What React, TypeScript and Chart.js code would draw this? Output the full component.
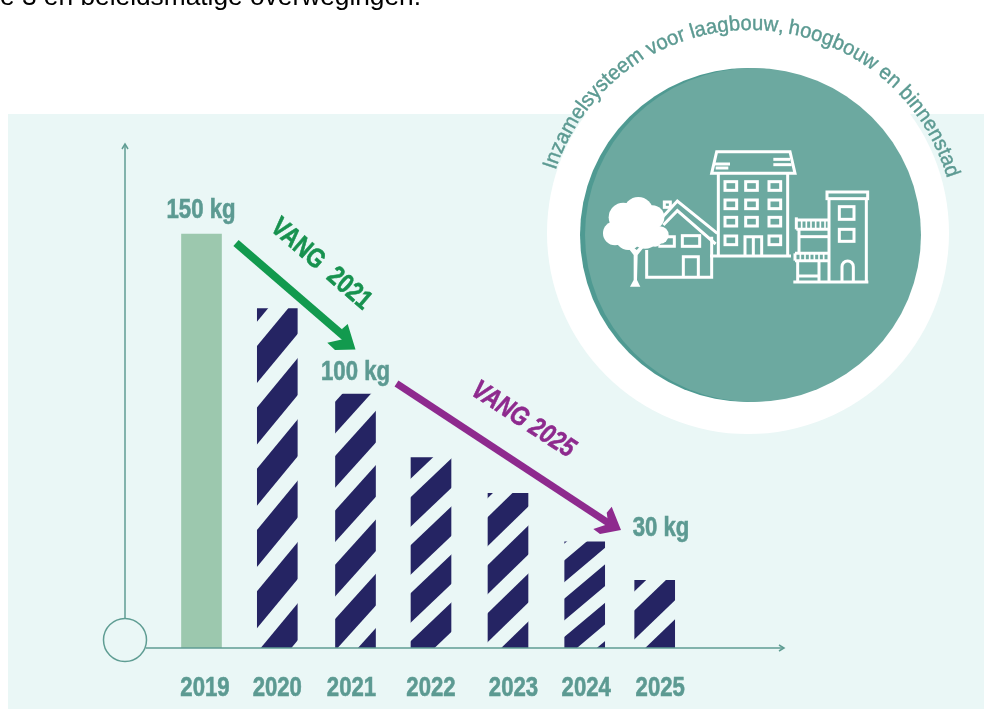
import React, { useEffect, useRef } from "react";
import { Chart, registerables, CategoryScale } from "chart.js";

// ---- data ----
const years = ["2019", "2020", "2021", "2022", "2023", "2024", "2025"];
const kgPerResident = [150, 123, 92, 69, 56, 38.5, 24.5];
const valueLabels = ["150 kg", "100 kg", "30 kg"];
const arrowLabels = ["VANG 2021", "VANG 2025"];
const ringTitle = "Inzamelsysteem voor laagbouw, hoogbouw en binnenstad";
const headerText = "e 3 en beleidsmatige overwegingen.";

// ---- layout and style (not data) ----
const barShift = [0, 0.3, 3, 3, 4.5, 5.7, 0.2];
const labelShift = [3.5, 0, -4, 0, 5.5, 1.5, 5.5];
const NAVY = "#252463";
const TEAL = "#5c9a92";
const AXIS = "#5f9d93";
const PANEL = "#eaf7f6";
const SANS = '"Liberation Sans", Arial, sans-serif';
const NARROW_X = 0.82;
const hatches = [
  null,
  { left: 257.3, anchor: 382.7, period: 61.3, slope: 1.21, thick: 37 },
  { left: 335.3, anchor: 433.3, period: 54.3, slope: 1.11, thick: 31.7 },
  { left: 411, anchor: 478.3, period: 48, slope: 0.95, thick: 29.5 },
  { left: 488, anchor: 497.7, period: 48, slope: 0.97, thick: 29 },
  { left: 564.7, anchor: 543.4, period: 38.3, slope: 0.84, thick: 21.7 },
  { left: 634.7, anchor: 591, period: 48, slope: 0.96, thick: 29 },
];

function narrowText(
  ctx: CanvasRenderingContext2D,
  text: string,
  x: number,
  y: number,
  font: string,
  color: string,
  deg = 0
) {
  ctx.save();
  ctx.translate(x, y);
  ctx.rotate((deg * Math.PI) / 180);
  ctx.scale(NARROW_X, 1);
  ctx.font = font;
  ctx.fillStyle = color;
  ctx.strokeStyle = color;
  ctx.lineWidth = 0.6;
  ctx.textAlign = "center";
  ctx.textBaseline = "alphabetic";
  ctx.fillText(text, 0, 0);
  ctx.strokeText(text, 0, 0);
  ctx.restore();
}

class PlacedCategoryScale extends CategoryScale {
  static id = "placedCategory";
  getPixelForValue(value: any, index?: any) {
    const base = super.getPixelForValue(value, index);
    const v = typeof value === "number" ? value : (this as any).parse(value);
    return base + (barShift[v] || 0);
  }
  getPixelForTick(index: number) {
    return super.getPixelForTick(index) + (labelShift[index] || 0);
  }
  drawLabels() {
    const self = this as any;
    self.ticks.forEach((tick: any, i: number) => {
      narrowText(self.ctx, String(tick.label), self.getPixelForTick(i), self.top + 48, `bold 27px ${SANS}`, TEAL);
    });
  }
}

Chart.register(...registerables, PlacedCategoryScale as any);

function hatchPattern(h: any) {
  const off = document.createElement("canvas");
  off.width = 984;
  off.height = 709;
  const c = off.getContext("2d")!;
  c.fillStyle = NAVY;
  const x0 = h.left - 2;
  const x1 = h.left + 44;
  for (let k = -10; k < 14; k++) {
    const low = h.anchor + k * h.period;
    const yAt = (yLeft: number, x: number) => yLeft - h.slope * (x - h.left);
    c.beginPath();
    c.moveTo(x0, yAt(low, x0));
    c.lineTo(x1, yAt(low, x1));
    c.lineTo(x1, yAt(low - h.thick, x1));
    c.lineTo(x0, yAt(low - h.thick, x0));
    c.closePath();
    c.fill();
  }
  return c.createPattern(off, "no-repeat")!;
}

function drawRingText(ctx: CanvasRenderingContext2D) {
  const cx = 750, cy = 235, r = 205;
  const start = (-71.6 * Math.PI) / 180;
  const end = (74 * Math.PI) / 180;
  ctx.save();
  ctx.font = `21px ${SANS}`;
  ctx.fillStyle = TEAL;
  ctx.strokeStyle = TEAL;
  ctx.lineWidth = 0.4;
  ctx.textAlign = "left";
  ctx.textBaseline = "alphabetic";
  const total = ctx.measureText(ringTitle).width;
  const k = (end - start) / (total / r);
  let pos = 0;
  for (let i = 0; i < ringTitle.length; i++) {
    const ch = ringTitle[i];
    const adv = ctx.measureText(ringTitle.slice(0, i + 1)).width;
    const a = start + (pos / r) * k;
    ctx.save();
    ctx.translate(cx + r * Math.sin(a), cy - r * Math.cos(a));
    ctx.rotate(a);
    ctx.scale(0.96, 1);
    ctx.fillText(ch, 0, 0);
    ctx.strokeText(ch, 0, 0);
    ctx.restore();
    pos = adv;
  }
  ctx.restore();
}

function poly(ctx: CanvasRenderingContext2D, pts: number[], close = false) {
  ctx.beginPath();
  ctx.moveTo(pts[0], pts[1]);
  for (let i = 2; i < pts.length; i += 2) ctx.lineTo(pts[i], pts[i + 1]);
  if (close) ctx.closePath();
  ctx.stroke();
}

function drawTown(ctx: CanvasRenderingContext2D) {
  ctx.save();
  ctx.translate(595, 140);
  ctx.scale(1 / 3, 1 / 3);
  ctx.strokeStyle = "#ffffff";
  ctx.fillStyle = "#ffffff";
  ctx.lineWidth = 9;
  ctx.lineJoin = "miter";
  // tall building
  poly(ctx, [365, 35, 585, 35, 600, 100, 350, 100], true);
  poly(ctx, [358, 72, 405, 72]);
  poly(ctx, [362, 84, 400, 84]);
  poly(ctx, [535, 58, 585, 58]);
  poly(ctx, [535, 74, 590, 74]);
  poly(ctx, [370, 100, 370, 348]);
  poly(ctx, [578, 100, 578, 348]);
  poly(ctx, [345, 348, 588, 348]);
  const cols = [390, 452, 522];
  const rows = [125, 180, 232, 288];
  rows.forEach((y, ri) =>
    cols.forEach((x, ci) => {
      if (ri === 3 && ci === 1) return;
      ctx.strokeRect(x, y, 35, 26);
    })
  );
  poly(ctx, [450, 345, 450, 290, 500, 290, 500, 345]);
  poly(ctx, [475, 290, 475, 345]);
  // house
  poly(ctx, [190, 245, 247, 183, 367, 280]);
  poly(ctx, [205, 255, 247, 212, 362, 312]);
  ctx.strokeRect(208, 186, 18, 16);
  poly(ctx, [155, 330, 155, 412, 350, 412, 350, 290]);
  ctx.strokeRect(262, 287, 52, 32);
  poly(ctx, [215, 290, 238, 290, 238, 319, 190, 319]);
  poly(ctx, [265, 412, 265, 350, 310, 350, 310, 412]);
  // tree
  const blobs = [
    [130, 215, 44], [85, 232, 44], [60, 280, 36], [172, 232, 36],
    [195, 285, 26], [100, 290, 40], [150, 280, 46], [180, 300, 20], [120, 260, 50],
  ];
  blobs.forEach(([x, y, r]) => {
    ctx.beginPath();
    ctx.arc(x, y, r, 0, Math.PI * 2);
    ctx.fill();
  });
  ctx.beginPath();
  ctx.moveTo(105, 440);
  ctx.lineTo(136, 440);
  ctx.lineTo(126, 420);
  ctx.lineTo(128, 345);
  ctx.lineTo(156, 310);
  ctx.lineTo(148, 305);
  ctx.lineTo(125, 330);
  ctx.lineTo(95, 305);
  ctx.lineTo(90, 312);
  ctx.lineTo(116, 345);
  ctx.lineTo(116, 420);
  ctx.closePath();
  ctx.fill();
  // right building
  ctx.strokeRect(696, 156, 122, 20);
  poly(ctx, [702, 176, 702, 425]);
  poly(ctx, [814, 176, 814, 425]);
  ctx.strokeRect(733, 200, 44, 38);
  ctx.strokeRect(733, 268, 44, 36);
  ctx.beginPath();
  ctx.moveTo(741, 425);
  ctx.lineTo(741, 380);
  ctx.arc(758, 380, 17, Math.PI, 0);
  ctx.lineTo(775, 425);
  ctx.stroke();
  poly(ctx, [595, 426, 820, 426]);
  // low building
  poly(ctx, [600, 240, 702, 240]);
  poly(ctx, [604, 268, 702, 268]);
  poly(ctx, [604, 232, 604, 268]);
  ctx.lineWidth = 5;
  for (let x = 620; x < 700; x += 14) poly(ctx, [x, 242, x, 266]);
  for (let x = 616; x < 700; x += 14) poly(ctx, [x, 342, x, 360]);
  ctx.lineWidth = 9;
  poly(ctx, [612, 268, 612, 340]);
  poly(ctx, [612, 290, 702, 290]);
  poly(ctx, [600, 340, 702, 340]);
  poly(ctx, [600, 362, 702, 362]);
  poly(ctx, [600, 340, 600, 362]);
  poly(ctx, [608, 362, 608, 426]);
  poly(ctx, [608, 408, 672, 408]);
  poly(ctx, [672, 362, 672, 426]);
  ctx.restore();
}

function arrow(
  ctx: CanvasRenderingContext2D,
  color: string,
  width: number,
  from: number[],
  notch: number[],
  head: number[]
) {
  ctx.save();
  ctx.strokeStyle = color;
  ctx.fillStyle = color;
  ctx.lineWidth = width;
  ctx.lineCap = "butt";
  ctx.beginPath();
  ctx.moveTo(from[0], from[1]);
  ctx.lineTo(notch[0], notch[1]);
  ctx.stroke();
  ctx.beginPath();
  ctx.moveTo(head[0], head[1]);
  for (let i = 2; i < head.length; i += 2) ctx.lineTo(head[i], head[i + 1]);
  ctx.closePath();
  ctx.fill();
  ctx.restore();
}

const backdrop = {
  id: "backdrop",
  beforeDraw(chart: any) {
    const ctx: CanvasRenderingContext2D = chart.ctx;
    ctx.save();
    ctx.fillStyle = "#ffffff";
    ctx.fillRect(0, 0, 984, 709);
    ctx.fillStyle = PANEL;
    ctx.fillRect(8, 114, 976, 595);
    // white ring and discs
    ctx.fillStyle = "#ffffff";
    ctx.beginPath();
    ctx.arc(748, 233, 201, 0, Math.PI * 2);
    ctx.fill();
    ctx.fillStyle = "#4f9a92";
    ctx.beginPath();
    ctx.ellipse(748, 235, 168, 167, 0, 0, Math.PI * 2);
    ctx.fill();
    ctx.fillStyle = "#6ca9a0";
    ctx.beginPath();
    ctx.ellipse(753, 235, 168, 167, 0, 0, Math.PI * 2);
    ctx.fill();
    ctx.fillStyle = "#000000";
    ctx.font = `26.3px ${SANS}`;
    ctx.textBaseline = "alphabetic";
    ctx.textAlign = "left";
    ctx.fillText(headerText, 0, 5);
    ctx.restore();
    drawRingText(ctx);
    drawTown(ctx);
  },
  afterDraw(chart: any) {
    const ctx: CanvasRenderingContext2D = chart.ctx;
    const base = chart.scales.y.getPixelForValue(0);
    ctx.save();
    ctx.strokeStyle = AXIS;
    ctx.lineWidth = 1.5;
    // axes
    poly(ctx, [125, 619, 125, 144]);
    poly(ctx, [122, 149, 125, 144, 128, 149]);
    poly(ctx, [146, base, 784, base]);
    poly(ctx, [779, base - 3, 784, base, 779, base + 3]);
    ctx.beginPath();
    ctx.ellipse(125, 640, 21.5, 21.5, 0, 0, Math.PI * 2);
    ctx.stroke();
    ctx.restore();
    // arrows
    arrow(ctx, "#129a4e", 8, [236, 243], [346, 338], [347.7, 324, 355.5, 349.5, 335, 350, 327.3, 342.7, 344, 339, 342, 329]);
    arrow(ctx, "#8e2a8e", 7, [396.5, 383.5], [610, 524], [611.7, 506.7, 621, 530, 600, 534, 593.3, 529, 608.3, 524, 606.7, 512.7]);
    // value labels
    const labelFont = `bold 27px ${SANS}`;
    narrowText(ctx, valueLabels[0], 201, 218, labelFont, TEAL);
    narrowText(ctx, valueLabels[1], 355.5, 380, labelFont, TEAL);
    narrowText(ctx, valueLabels[2], 661, 536, labelFont, TEAL);
    narrowText(ctx, arrowLabels[0].replace(" ", "  "), 316, 270, `bold 27px ${SANS}`, "#17924f", 41);
    narrowText(ctx, arrowLabels[1], 519, 426, `italic bold 27px ${SANS}`, "#8e2a8e", 33);
  },
};

export default function App() {
  const ref = useRef<HTMLCanvasElement>(null);
  useEffect(() => {
    const chart = new Chart(ref.current!, {
      type: "bar",
      data: {
        labels: years,
        datasets: [
          {
            data: kgPerResident,
            backgroundColor: hatches.map((h) => (h ? hatchPattern(h) : "#9cc8ae")),
            borderWidth: 0,
            barThickness: 40,
          },
        ],
      },
      options: {
        responsive: false,
        animation: false,
        events: [],
        layout: { padding: { left: 163.75, right: 291.75, top: 151.2, bottom: 8.6 } },
        plugins: { legend: { display: false }, tooltip: { enabled: false } },
        scales: {
          x: {
            type: "placedCategory",
            offset: true,
            grid: { display: false, drawTicks: false },
            border: { display: false },
            ticks: {
              color: TEAL,
              font: { family: SANS, size: 27, weight: "bold" },
              padding: 10,
              autoSkip: false,
              maxRotation: 0,
              minRotation: 0,
            },
          },
          y: { display: false, min: 0, max: 180 },
        },
      },
      plugins: [backdrop],
    } as any);
    return () => chart.destroy();
  }, []);
  return (
    <canvas
      ref={ref}
      width={984}
      height={709}
      style={{ position: "absolute", left: 0, top: 0, display: "block" }}
    />
  );
}
